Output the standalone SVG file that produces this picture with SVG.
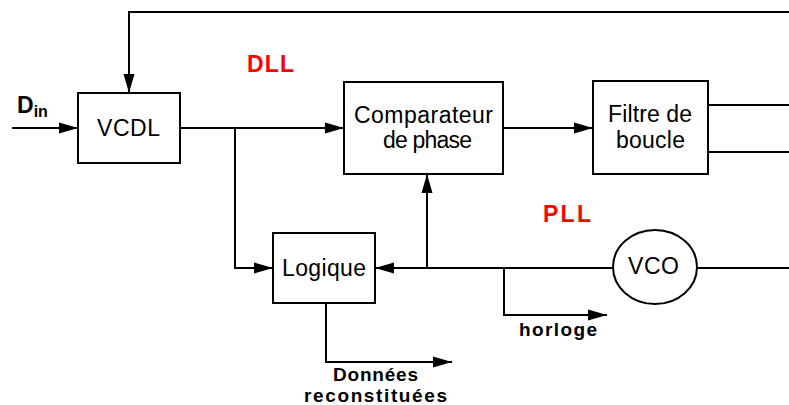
<svg xmlns="http://www.w3.org/2000/svg" width="789" height="405" viewBox="0 0 789 405">
<style>
.box{fill:#fff;stroke:#000;stroke-width:2}
.w{fill:none;stroke:#000;stroke-width:2}
.t{font-family:"Liberation Sans",Arial,sans-serif;font-size:23px;fill:#000}
.b{font-family:"Liberation Sans",Arial,sans-serif;font-size:19px;font-weight:bold;fill:#000}
.r{font-family:"Liberation Sans",Arial,sans-serif;font-size:23px;font-weight:bold;fill:#f00}
</style>
<defs>
<marker id="a" markerWidth="19" markerHeight="12" refX="19" refY="6" orient="auto" markerUnits="userSpaceOnUse">
<path d="M0,0.5 L19,6 L0,11.5 Z" fill="#000"/>
</marker>
</defs>
<rect width="789" height="405" fill="#fff"/>
<g id="connectors">
<path class="w" d="M12,128 H78" marker-end="url(#a)"/>
<path class="w" d="M789,12 H129 V93" marker-end="url(#a)"/>
<path class="w" d="M180,128 H344" marker-end="url(#a)"/>
<path class="w" d="M235,128 V268 H273" marker-end="url(#a)"/>
<path class="w" d="M503,128 H593" marker-end="url(#a)"/>
<path class="w" d="M708,105 H789"/>
<path class="w" d="M708,152 H789"/>
<path class="w" d="M613,268 H375" marker-end="url(#a)"/>
<path class="w" d="M427,268 V174" marker-end="url(#a)"/>
<path class="w" d="M504,268 V315 H607" marker-end="url(#a)"/>
<path class="w" d="M326,303 V362 H452" marker-end="url(#a)"/>
<path class="w" d="M697,268 H789"/>
</g>
<g id="vcdl"><rect class="box" x="78" y="93" width="102" height="70"/><text class="t" x="97" y="136" textLength="63" lengthAdjust="spacing">VCDL</text></g>
<g id="comparateur"><rect class="box" x="344" y="82" width="159" height="92"/><text class="t" x="354" y="123" textLength="139" lengthAdjust="spacing">Comparateur</text><text class="t" x="383" y="148" textLength="89" lengthAdjust="spacing">de phase</text></g>
<g id="filtre"><rect class="box" x="593" y="81" width="115" height="93"/><text class="t" x="608" y="122" textLength="84" lengthAdjust="spacing">Filtre de</text><text class="t" x="616" y="148" textLength="69" lengthAdjust="spacing">boucle</text></g>
<g id="logique"><rect class="box" x="273" y="233" width="102" height="70"/><text class="t" x="282" y="276" textLength="84" lengthAdjust="spacing">Logique</text></g>
<g id="vco"><ellipse class="box" cx="655" cy="267" rx="42" ry="37"/><text class="t" x="628" y="274" textLength="51" lengthAdjust="spacing">VCO</text></g>
<g id="labels">
<text x="17" y="113" font-family="Liberation Sans,Arial,sans-serif" font-weight="bold" font-size="23">D<tspan font-size="16" dy="4">in</tspan></text>
<text class="r" x="247" y="72" textLength="47" lengthAdjust="spacing">DLL</text>
<text class="r" x="543" y="222" textLength="48" lengthAdjust="spacing">PLL</text>
<text class="b" x="519" y="336" textLength="78" lengthAdjust="spacing">horloge</text>
<text class="b" x="333" y="381" textLength="85" lengthAdjust="spacing">Données</text>
<text class="b" x="304" y="402" textLength="143" lengthAdjust="spacing">reconstituées</text>
</g>
</svg>
